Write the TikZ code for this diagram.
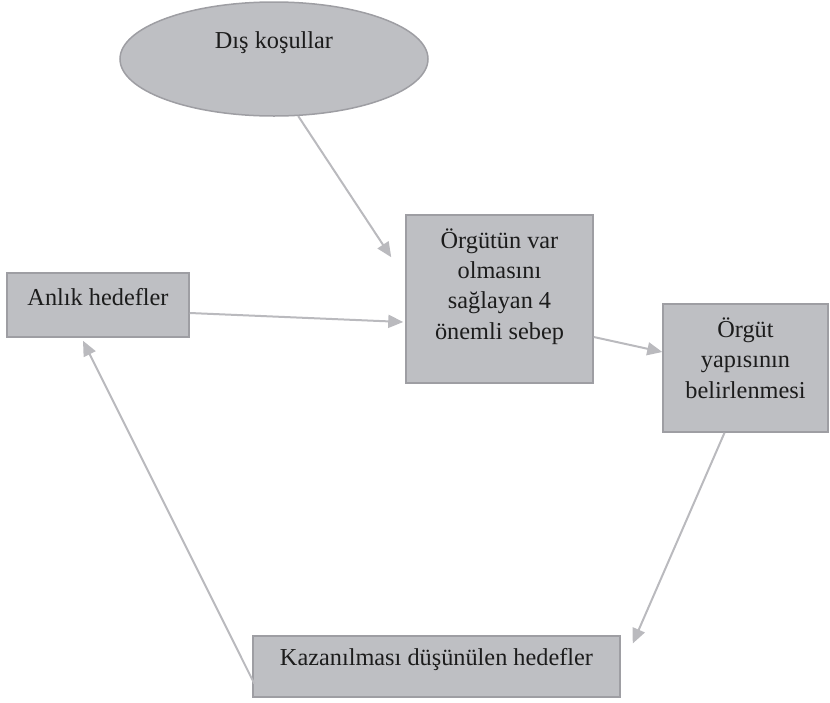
\documentclass[tikz,border=0pt]{standalone}
\usepackage{fontspec}
\setmainfont{Liberation Serif}
\usetikzlibrary{arrows.meta,shapes.geometric}
\definecolor{boxfill}{RGB}{190,191,195}
\definecolor{boxline}{RGB}{158,158,163}
\definecolor{arrowgray}{RGB}{186,186,190}
\definecolor{txt}{RGB}{28,28,28}

\begin{document}
\begin{tikzpicture}[x=1pt,y=-1pt, every node/.style={font=\fontsize{24.3}{30.3}\selectfont, text=txt},
  block/.style={draw=boxline, fill=boxfill, line width=1.5pt, align=center, inner sep=0pt},
  line/.style={-{Triangle[length=15pt,width=13pt]}, draw=arrowgray, line width=2pt}]
  \useasboundingbox (0,0) rectangle (830,702);
  \node[block,ellipse,minimum width=308pt,minimum height=114pt,text height=17pt,text depth=39pt] (dis) at (274,59) {Dış koşullar};
  \node[block,minimum width=187pt,minimum height=168pt,text depth=30pt] (sebep) at (499.5,299) {Örgütün var\\olmasını\\sağlayan 4\\önemli sebep};
  \node[block,minimum width=182pt,minimum height=64pt,text height=17pt,text depth=17pt] (anlik) at (98,305) {Anlık hedefler};
  \node[block,minimum width=165pt,minimum height=128pt,text depth=20pt] (yapi) at (745.5,368) {Örgüt\\yapısının\\belirlenmesi};
  \node[block,minimum width=367pt,minimum height=61pt,text height=17pt,text depth=20pt] (kazan) at (436.5,666.5) {Kazanılması düşünülen hedefler};
  \draw[line] (dis.-67) -- ([xshift=-14pt,yshift=-43pt]sebep.north west);
  \draw[line] ([yshift=-8pt]anlik.east) -- ([xshift=-2pt,yshift=-23pt]sebep.west);
  \draw[line] ([yshift=-38pt]sebep.east) -- ([yshift=16pt]yapi.west);
  \draw[line] ([xshift=-21pt]yapi.south) -- ([xshift=12pt,yshift=23pt]kazan.east);
  \draw[line] ([xshift=2pt,yshift=-17pt]kazan.west) -- ([xshift=-15pt,yshift=-3pt]anlik.south);
\end{tikzpicture}
\end{document}
